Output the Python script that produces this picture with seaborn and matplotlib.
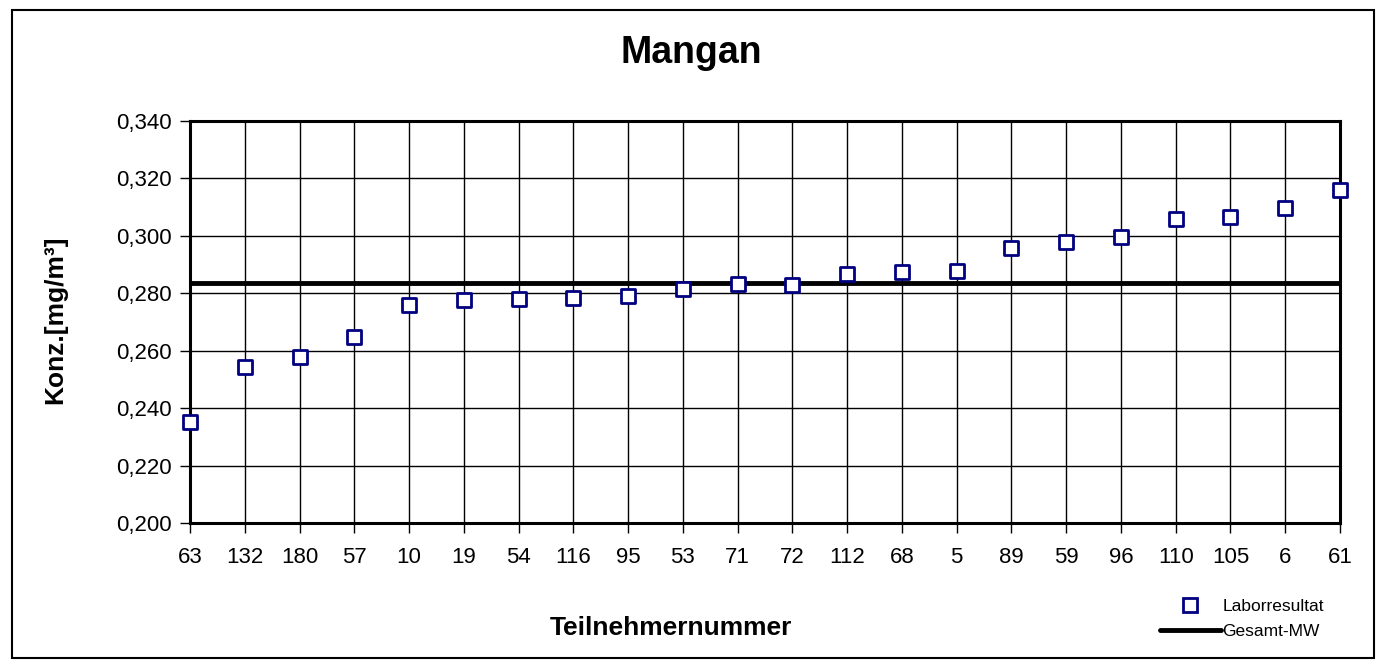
import numpy as np
import pandas as pd
import seaborn as sns
import matplotlib.pyplot as plt
from matplotlib.lines import Line2D
from matplotlib.patches import Rectangle

teilnehmer = ["63", "132", "180", "57", "10", "19", "54", "116", "95", "53", "71",
              "72", "112", "68", "5", "89", "59", "96", "110", "105", "6", "61"]
konz = [0.2352, 0.2544, 0.2577, 0.2648, 0.2760, 0.2776, 0.2779, 0.2784, 0.2792, 0.2815, 0.2831,
        0.2830, 0.2867, 0.2873, 0.2879, 0.2957, 0.2980, 0.2996, 0.3059, 0.3065, 0.3096, 0.3161]
gesamt_mw = 0.2836
y_ticks = [0.200, 0.220, 0.240, 0.260, 0.280, 0.300, 0.320, 0.340]

sns.set_style("white")
plt.rcParams['font.family'] = ['Liberation Sans', 'DejaVu Sans']
plt.rcParams['text.color'] = "black"
plt.rcParams['xtick.color'] = "black"
plt.rcParams['ytick.color'] = "black"

df = pd.DataFrame({"Teilnehmer": teilnehmer, "Konz": konz})

fig = plt.figure(figsize=(13.83, 6.6), dpi=100)
ax = fig.add_axes([0.1374, 0.2076, 0.8315, 0.6091])

ax.axhline(gesamt_mw, color="black", lw=3.5, zorder=3)
sns.scatterplot(data=df, x="Teilnehmer", y="Konz", ax=ax, marker="s", s=110,
                facecolor="white", edgecolor="#000080", linewidth=2, zorder=4,
                clip_on=False, legend=False)

ax.set_xlim(0, len(teilnehmer) - 1)
ax.set_ylim(0.200, 0.340)
ax.set_yticks(y_ticks)
ax.set_yticklabels([f"{v:.3f}".replace(".", ",") for v in y_ticks])
ax.grid(True, color="black", lw=1)
ax.set_axisbelow(True)
for sp in ax.spines.values():
    sp.set_color("black")
    sp.set_linewidth(2.2)
ax.tick_params(axis="both", direction="out", length=7, width=1, color="black",
               labelsize=16, pad=6, left=True, bottom=True)
ax.tick_params(axis="x", pad=10)
ax.set_xlabel("")
ax.set_ylabel("")

fig.text(0.5, 0.92, "Mangan", ha="center", va="center", fontsize=27, fontweight="bold")
fig.text(0.485, 0.048, "Teilnehmernummer", ha="center", va="center", fontsize=19, fontweight="bold")
fig.text(0.040, 0.515, "Konz.[mg/m³]", ha="center", va="center", rotation=90,
         fontsize=19, fontweight="bold")

handles = [Line2D([], [], marker="s", ls="none", markersize=10, markerfacecolor="white",
                  markeredgecolor="#000080", markeredgewidth=2),
           Line2D([], [], color="black", lw=3.5)]
fig.legend(handles, ["Laborresultat", "Gesamt-MW"], loc="center left",
           bbox_to_anchor=(0.8388, 0.062), borderpad=0, borderaxespad=0,
           frameon=False, fontsize=12.5, handlelength=3.5, handletextpad=0.1, labelspacing=0.6)

fig.add_artist(Rectangle((12 / 1383, 0.003), 1362 / 1383, 648 / 660, transform=fig.transFigure,
                         fill=False, edgecolor="black", lw=1.5))

fig.savefig("out.png", dpi=100)
